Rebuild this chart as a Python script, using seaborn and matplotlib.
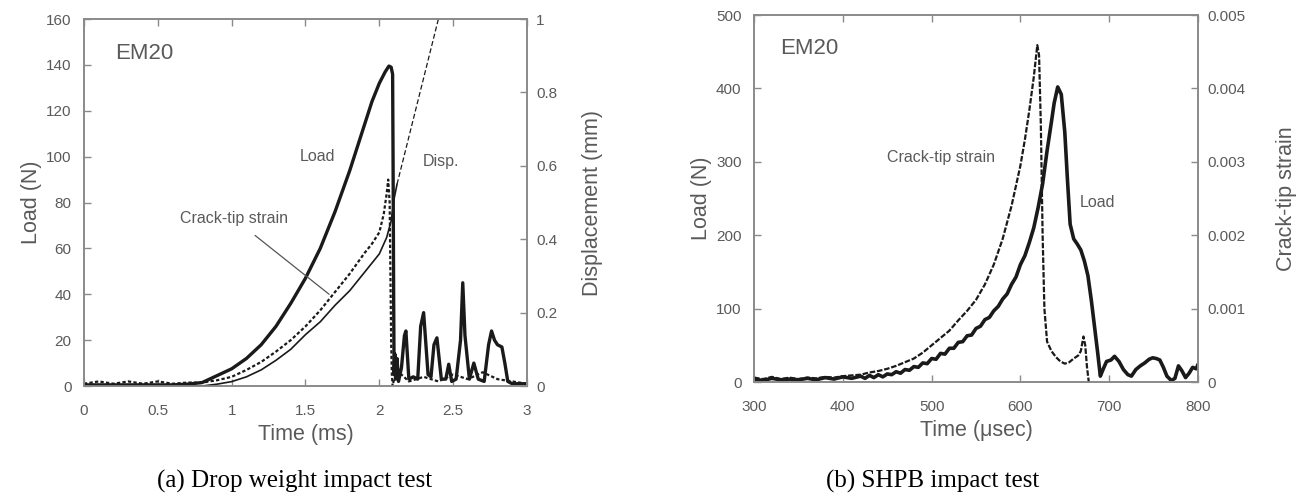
import numpy as np
import pandas as pd
import matplotlib
matplotlib.use("Agg")
import matplotlib.pyplot as plt
import seaborn as sns

# ---------------- (a) drop weight impact test ----------------
drop_load_t = [0.0, 0.3, 0.6, 0.7, 0.8, 0.9, 1.0, 1.1, 1.2, 1.3, 1.4, 1.5, 1.6, 1.7,
               1.8, 1.9, 1.95, 2.0, 2.04, 2.065, 2.08, 2.09, 2.093, 2.097, 2.1,
               2.105, 2.11, 2.12, 2.13, 2.15, 2.17, 2.18, 2.2, 2.23, 2.26, 2.28,
               2.3, 2.33, 2.35, 2.37, 2.39, 2.42, 2.45, 2.47, 2.49, 2.52, 2.55,
               2.565, 2.58, 2.61, 2.64, 2.67, 2.71, 2.74, 2.76, 2.78, 2.8, 2.83,
               2.85, 2.87, 2.9, 2.95, 3.0]
drop_load_N = [0.5, 0.5, 0.5, 0.8, 1.5, 4.5, 7.5, 12, 18, 26, 36, 47, 60, 76,
               94, 114, 124, 132, 137, 139.5, 139, 136, 100, 40, 5,
               14, 3, 12, 2, 8, 22, 24, 3, 4, 3, 26,
               32, 5, 4, 18, 21, 3, 3, 9.5, 2, 3, 20,
               45, 22, 3, 10, 3, 2, 18, 24, 20, 18, 17,
               10, 2, 1, 1, 1]

drop_strain_t = [0.0, 0.1, 0.2, 0.3, 0.4, 0.5, 0.6, 0.7, 0.8, 0.9, 1.0, 1.1, 1.2,
                 1.3, 1.4, 1.5, 1.6, 1.7, 1.8, 1.9, 1.95, 2.0, 2.03, 2.05, 2.06,
                 2.07, 2.075, 2.08, 2.085, 2.09, 2.1, 2.15, 2.2, 2.3, 2.4, 2.5,
                 2.6, 2.7, 2.8, 2.9, 3.0]
drop_strain_v = [1, 2, 1, 2, 1, 2, 1, 1.5, 1.5, 2.5, 4, 7, 10.5,
                 15, 20, 26, 33, 41, 49, 58, 62, 67, 75, 84, 90,
                 80, 50, 20, 5, 0, 3, 5, 2, 4, 2, 5,
                 3, 6, 3, 2, 1]

drop_disp_t = [0.0, 0.8, 0.9, 1.0, 1.1, 1.2, 1.3, 1.4, 1.5, 1.6, 1.7, 1.8, 1.9,
               2.0, 2.05, 2.08, 2.1, 2.12]
drop_disp_mm = [0.0, 0.0, 0.005, 0.012, 0.025, 0.044, 0.07, 0.1, 0.14, 0.175,
                0.22, 0.26, 0.31, 0.36, 0.405, 0.45, 0.51, 0.55]
post_disp_t = [2.12, 2.40, 2.45]
post_disp_mm = [0.55, 1.0, 1.08]

# ---------------- (b) SHPB impact test ----------------
shpb_load_t = [300, 310, 320, 330, 340, 350, 360, 370, 380, 390, 400, 410, 420,
               425, 430, 435, 440, 445, 450, 455, 460, 465, 470, 475, 480, 485,
               490, 495, 500, 505, 510, 515, 520, 525, 530, 535, 540, 545, 550,
               555, 560, 565, 570, 575, 580, 585, 590, 595, 600, 605, 610, 615,
               620, 625, 630, 635, 638, 642, 646, 650, 653, 656, 660, 664, 668,
               672, 676, 680, 684, 687, 690, 693, 697, 702, 706, 711, 716, 721,
               725, 730, 735, 740, 745, 749, 753, 757, 761, 765, 770, 774, 778,
               782, 786, 790, 794, 798, 800]
shpb_load_N = [4, 2, 5, 3, 4, 3, 5, 3, 6, 4, 7, 5, 8,
               5, 9, 6, 10, 7, 11, 10, 14, 12, 17, 16, 21, 20,
               26, 25, 32, 31, 39, 38, 46, 46, 54, 55, 63, 64, 73,
               76, 85, 88, 97, 103, 113, 120, 133, 143, 160, 172, 190, 210,
               238, 270, 315, 355, 380, 402, 392, 340, 275, 215, 195, 188, 180,
               165, 145, 110, 70, 40, 8, 17, 28, 30, 35, 28, 17, 10,
               8, 17, 22, 26, 31, 33, 32, 30, 20, 8, 2, 5, 22,
               15, 6, 12, 20, 18, 24]

shpb_strain_t = [300, 310, 320, 330, 340, 350, 360, 370, 380, 390, 400, 410, 420,
                 430, 440, 450, 460, 470, 480, 490, 500, 510, 520, 530, 540, 550,
                 560, 570, 580, 590, 600, 605, 610, 615, 619, 621, 623, 625, 627,
                 630, 635, 640, 645, 650, 655, 660, 665, 668, 671, 673, 675, 677]
shpb_strain = [6e-5, 4e-5, 7e-5, 4e-5, 6e-5, 4e-5, 6e-5, 5e-5, 7e-5, 6e-5, 8e-5,
               9e-5, 1.0e-4, 1.3e-4, 1.5e-4, 1.8e-4, 2.2e-4, 2.7e-4, 3.2e-4,
               4.0e-4, 5.0e-4, 6.0e-4, 7.0e-4, 8.4e-4, 9.7e-4, 1.12e-3, 1.33e-3,
               1.6e-3, 1.95e-3, 2.4e-3, 2.95e-3, 3.3e-3, 3.7e-3, 4.15e-3, 4.59e-3,
               4.45e-3, 3.5e-3, 2.0e-3, 1.0e-3, 5.5e-4, 4.2e-4, 3.4e-4, 2.8e-4,
               2.5e-4, 2.7e-4, 3.2e-4, 3.6e-4, 4.2e-4, 6.2e-4, 5.0e-4, 2.0e-4, 0.0]

# ---------------- styling ----------------
sns.set_theme(style="ticks")
plt.rcParams["font.family"] = ["Liberation Sans", "DejaVu Sans"]

GREY = "#5a5a5a"
SPINE = "#8a8a8a"
INK = "#1a1a1a"
TICK_FS = 11
LABEL_FS = 15.5
NOTE_FS = 11.5

fig = plt.figure(figsize=(13.08, 5.01), dpi=100)
ax_a = fig.add_axes([0.0642, 0.2295, 0.3387, 0.7325])
ax_b = fig.add_axes([0.5765, 0.2375, 0.3394, 0.7325])


def style_axis(ax, twin):
    for a in (ax, twin):
        for s in a.spines.values():
            s.set_color(SPINE)
            s.set_linewidth(1.2)
    ax.tick_params(axis="both", direction="in", length=5, width=1, color=SPINE,
                   labelsize=TICK_FS, labelcolor=GREY, top=True, right=False)
    ax.tick_params(axis="x", pad=13)
    ax.tick_params(axis="y", pad=9)
    twin.tick_params(axis="y", direction="in", length=5, width=1, color=SPINE,
                     labelsize=TICK_FS, labelcolor=GREY, pad=6.5)


# ----- panel (a) -----
ax_a2 = ax_a.twinx()
sns.lineplot(x=drop_load_t, y=drop_load_N, ax=ax_a, color=INK, lw=2.4,
             estimator=None, sort=False)
sns.lineplot(x=drop_strain_t, y=drop_strain_v, ax=ax_a, color=INK, lw=1.6,
             linestyle=(0, (1.5, 1.0)), estimator=None, sort=False)
sns.lineplot(x=drop_disp_t, y=drop_disp_mm, ax=ax_a2, color=INK, lw=1.2,
             estimator=None, sort=False)
sns.lineplot(x=post_disp_t, y=post_disp_mm, ax=ax_a2, color=INK, lw=0.9,
             linestyle=(0, (4, 2)), estimator=None, sort=False)

ax_a.set_xlim(0, 3)
ax_a.set_ylim(0, 160)
ax_a2.set_ylim(0, 1)
ax_a.set_xticks([0, 0.5, 1, 1.5, 2, 2.5, 3])
ax_a.set_xticklabels(["0", "0.5", "1", "1.5", "2", "2.5", "3"])
ax_a.set_yticks(np.arange(0, 161, 20))
ax_a2.set_yticks([0, 0.2, 0.4, 0.6, 0.8, 1])
ax_a2.set_yticklabels(["0", "0.2", "0.4", "0.6", "0.8", "1"])
style_axis(ax_a, ax_a2)
ax_a.set_xlabel("Time (ms)", fontsize=LABEL_FS, color=GREY, labelpad=4)
ax_a.set_ylabel("Load (N)", fontsize=LABEL_FS, color=GREY, labelpad=3)
ax_a2.set_ylabel("Displacement (mm)", fontsize=LABEL_FS, color=GREY, labelpad=18)

ax_a.text(0.41, 145, "EM20", fontsize=16, color=GREY, ha="center", va="center")
ax_a.text(1.58, 100, "Load", fontsize=NOTE_FS, color=GREY, ha="center", va="center")
ax_a.text(2.42, 98, "Disp.", fontsize=NOTE_FS, color=GREY, ha="center", va="center")
ax_a.annotate("Crack-tip strain", xy=(1.66, 40), xytext=(1.015, 73),
              fontsize=NOTE_FS, color=GREY, ha="center", va="center",
              arrowprops=dict(arrowstyle="-", color="#555555", lw=0.9,
                              shrinkA=7, shrinkB=0))

# ----- panel (b) -----
ax_b2 = ax_b.twinx()
sns.lineplot(x=shpb_load_t, y=shpb_load_N, ax=ax_b, color=INK, lw=2.6,
             estimator=None, sort=False)
sns.lineplot(x=shpb_strain_t, y=shpb_strain, ax=ax_b2, color=INK, lw=1.6,
             linestyle=(0, (2.5, 0.8)), estimator=None, sort=False)

ax_b.set_xlim(300, 800)
ax_b.set_ylim(0, 500)
ax_b2.set_ylim(0, 0.005)
ax_b.set_xticks(np.arange(300, 801, 100))
ax_b.set_yticks(np.arange(0, 501, 100))
ax_b2.set_yticks([0, 0.001, 0.002, 0.003, 0.004, 0.005])
ax_b2.set_yticklabels(["0", "0.001", "0.002", "0.003", "0.004", "0.005"])
style_axis(ax_b, ax_b2)
ax_b.set_xlabel("Time (μsec)", fontsize=LABEL_FS, color=GREY, labelpad=4)
ax_b.set_ylabel("Load (N)", fontsize=LABEL_FS, color=GREY, labelpad=3)
ax_b2.set_ylabel("Crack-tip strain", fontsize=LABEL_FS, color=GREY, labelpad=22)

ax_b.text(362, 455, "EM20", fontsize=16, color=GREY, ha="center", va="center")
ax_b.text(511, 306, "Crack-tip strain", fontsize=NOTE_FS, color=GREY,
          ha="center", va="center")
ax_b.text(687, 244, "Load", fontsize=NOTE_FS, color=GREY, ha="center", va="center")

# ----- sub-captions -----
fig.text(0.225, 0.04, "(a) Drop weight impact test", fontsize=18,
         family="Liberation Serif", color="black", ha="center", va="center")
fig.text(0.713, 0.04, "(b) SHPB impact test", fontsize=18,
         family="Liberation Serif", color="black", ha="center", va="center")

fig.savefig("out.png", dpi=100)
